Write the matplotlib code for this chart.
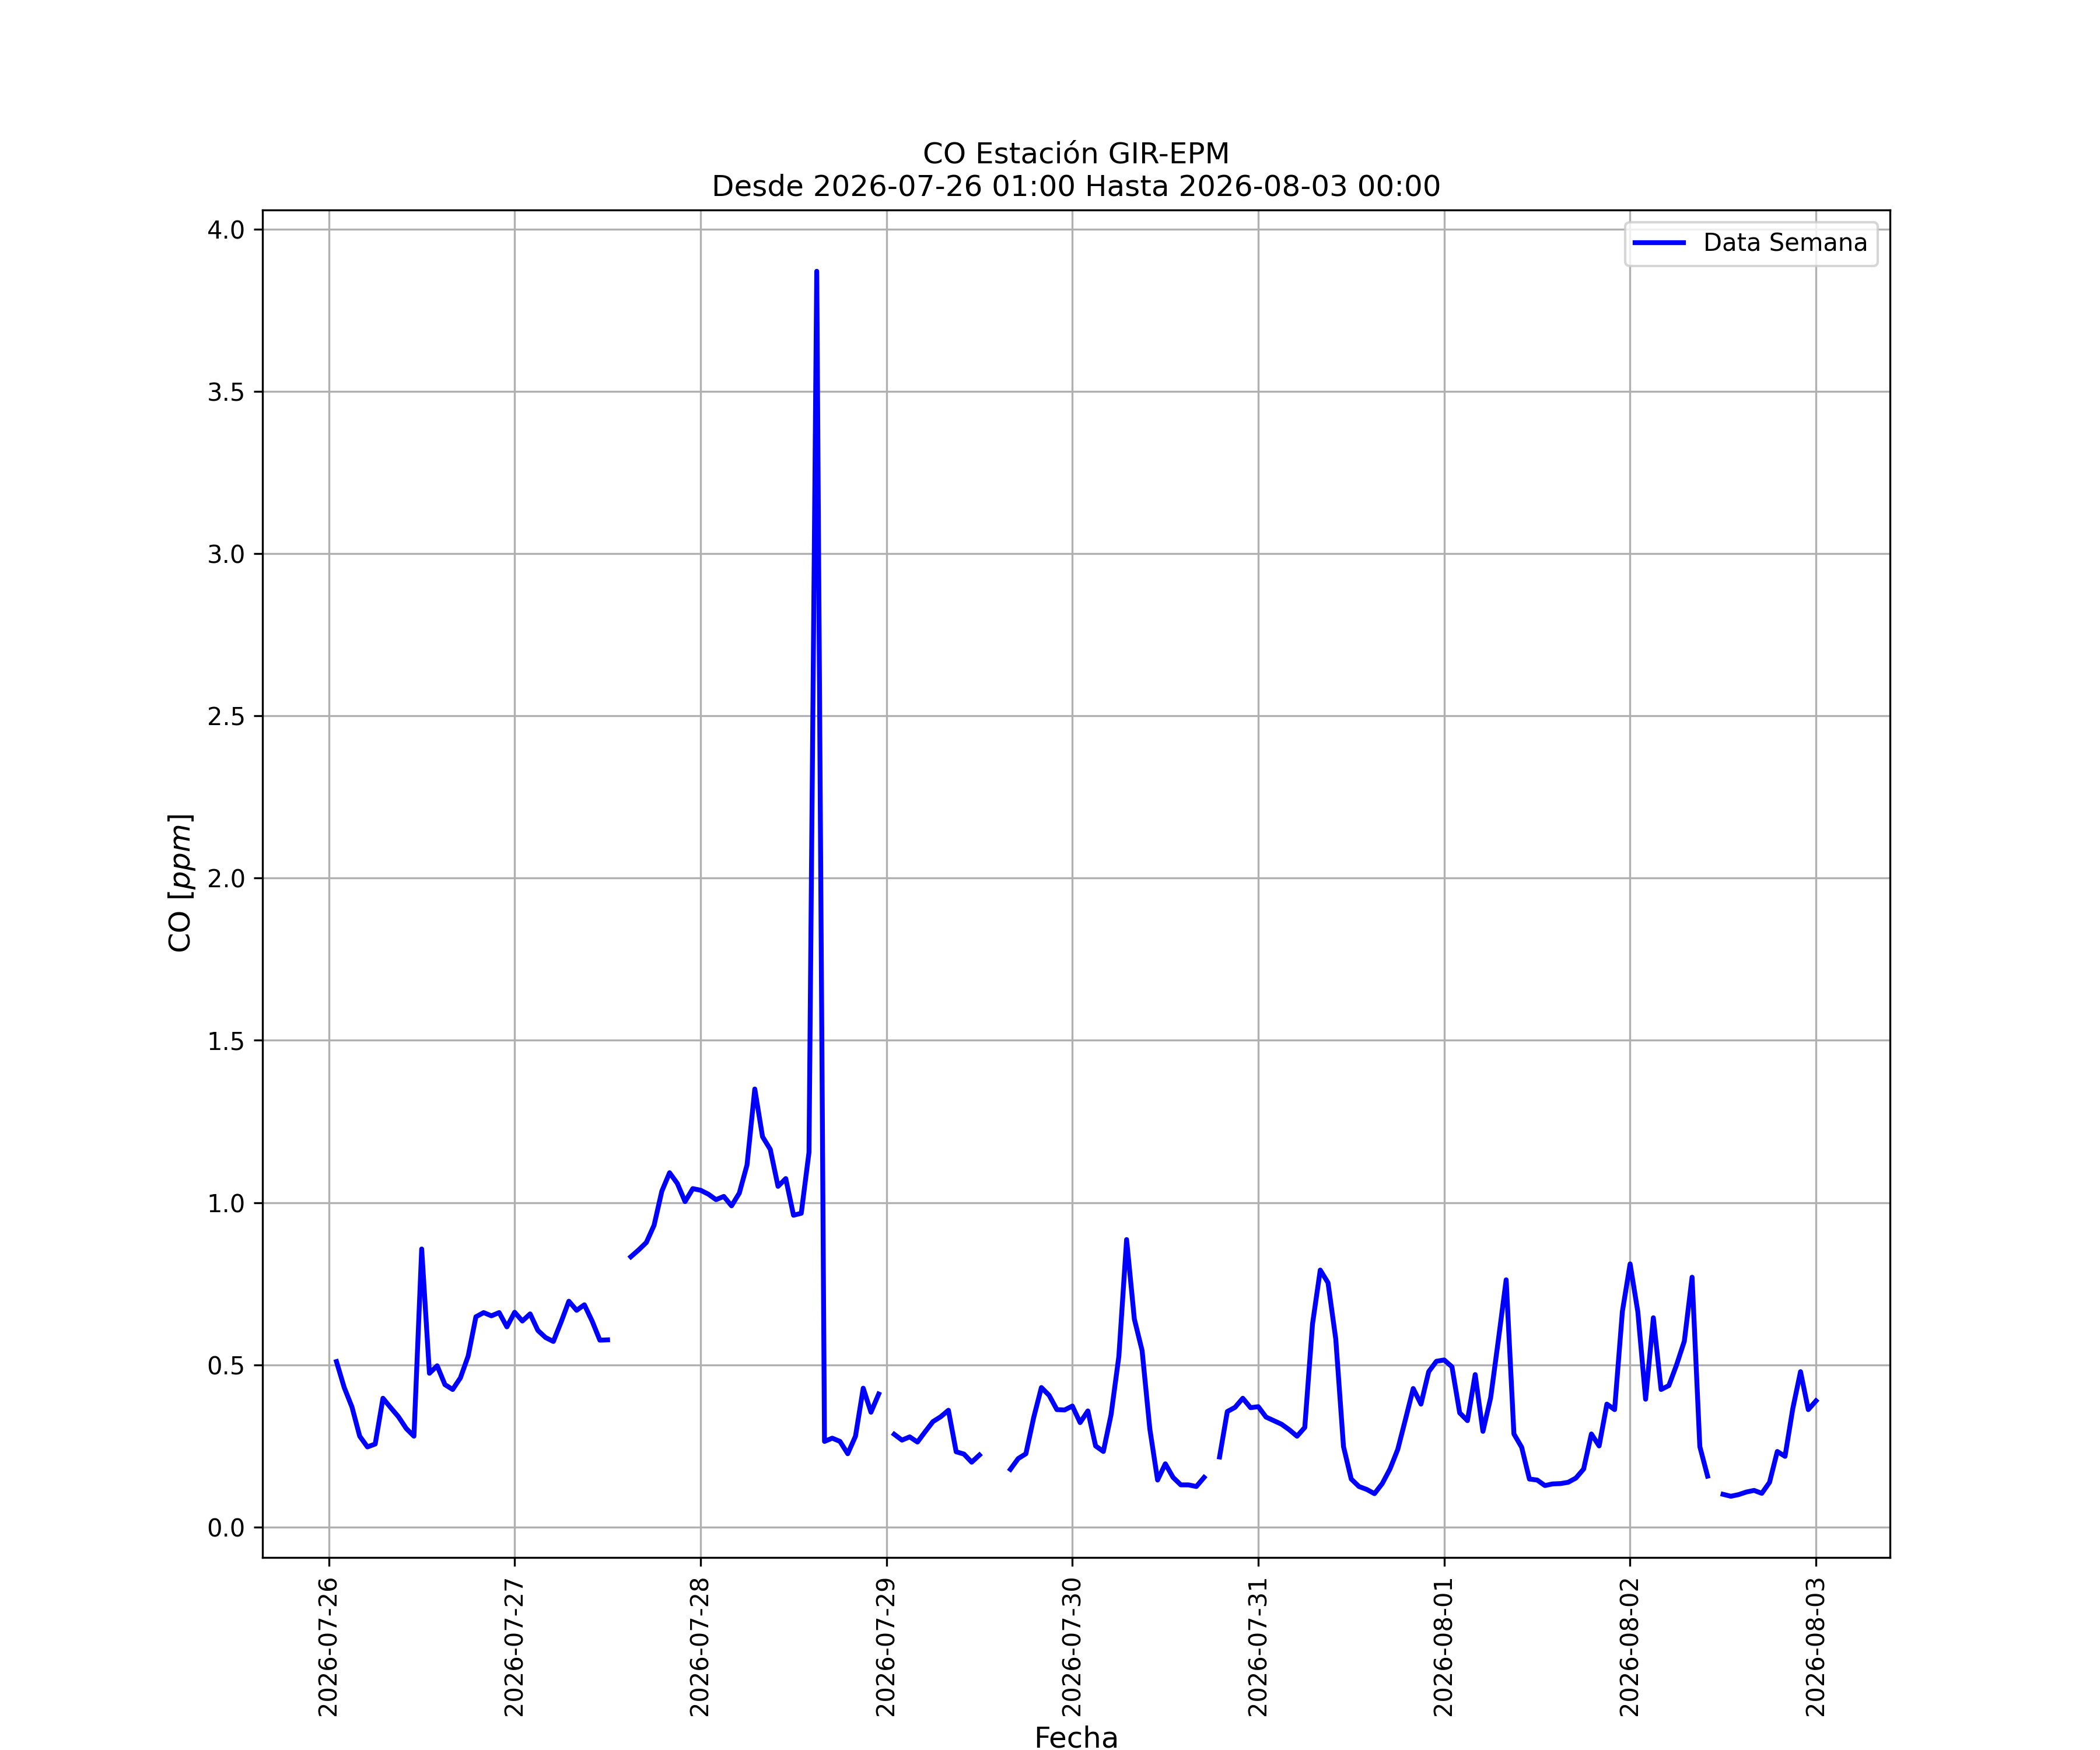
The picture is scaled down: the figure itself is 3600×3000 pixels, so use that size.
import numpy as np
import pandas as pd
import matplotlib
matplotlib.use('Agg')
import matplotlib.pyplot as plt
import matplotlib.dates as mdates

nan = np.nan

# Rango de la semana (datos horarios)
inicio = '2026-07-26 01:00'
fin = '2026-08-03 00:00'
estacion = 'GIR-EPM'

# CO [ppm] hora a hora, nan = sin dato
co_dia1 = [0.51, 0.43, 0.37, 0.28, 0.247, 0.256, 0.397, 0.368, 0.34, 0.304, 0.28, 0.857,
           0.474, 0.497, 0.439, 0.424, 0.46, 0.527, 0.648, 0.661, 0.651, 0.661, 0.617, 0.662]
co_dia2 = [0.635, 0.657, 0.606, 0.584, 0.572, 0.632, 0.696, 0.668, 0.685, 0.635, 0.576, 0.577,
           nan, nan, 0.833, 0.854, 0.877, 0.93, 1.035, 1.092, 1.059, 1.003, 1.043, 1.038]
co_dia3 = [1.026, 1.009, 1.019, 0.99, 1.029, 1.116, 1.35, 1.203, 1.164, 1.05, 1.074, 0.961,
           0.967, 1.155, 3.87, 0.264, 0.274, 0.264, 0.226, 0.28, 0.428, 0.354, 0.41, nan]
co_dia4 = [0.286, 0.268, 0.278, 0.262, 0.294, 0.325, 0.34, 0.36, 0.232, 0.225, 0.2, 0.222,
           nan, nan, nan, 0.178, 0.211, 0.226, 0.337, 0.43, 0.406, 0.362, 0.361, 0.373]
co_dia5 = [0.322, 0.358, 0.25, 0.233, 0.347, 0.526, 0.886, 0.641, 0.544, 0.302, 0.145, 0.195,
           0.153, 0.13, 0.13, 0.125, 0.153, nan, 0.216, 0.356, 0.369, 0.397, 0.368, 0.371]
co_dia6 = [0.339, 0.328, 0.317, 0.3, 0.28, 0.307, 0.626, 0.792, 0.753, 0.58, 0.248, 0.148,
           0.125, 0.116, 0.103, 0.134, 0.179, 0.239, 0.332, 0.427, 0.379, 0.479, 0.511, 0.515]
co_dia7 = [0.494, 0.352, 0.328, 0.47, 0.295, 0.399, 0.578, 0.762, 0.287, 0.246, 0.148, 0.145,
           0.128, 0.133, 0.134, 0.138, 0.151, 0.179, 0.287, 0.25, 0.379, 0.362, 0.664, 0.811]
co_dia8 = [0.663, 0.394, 0.645, 0.424, 0.436, 0.5, 0.573, 0.77, 0.248, 0.157, nan, 0.101,
           0.095, 0.1, 0.108, 0.113, 0.104, 0.138, 0.233, 0.218, 0.365, 0.479, 0.362, 0.389]

co_ppm = co_dia1 + co_dia2 + co_dia3 + co_dia4 + co_dia5 + co_dia6 + co_dia7 + co_dia8
fechas = pd.date_range(inicio, periods=len(co_ppm), freq='h')

fig, ax = plt.subplots(figsize=(12, 10), dpi=300)
ax.plot(fechas, co_ppm, color='blue', linewidth=2, label='Data Semana')

ax.set_title('CO Estación ' + estacion + '\nDesde ' + inicio + ' Hasta ' + fin, fontsize=12)
ax.set_xlabel('Fecha', fontsize=12)
ax.set_ylabel('CO [$ppm$]', fontsize=12)

ax.xaxis.set_major_locator(mdates.DayLocator())
ax.xaxis.set_major_formatter(mdates.DateFormatter('%Y-%m-%d'))
plt.xticks(rotation=90)

ax.grid(True)
ax.legend(loc='upper right')

fig.savefig('out.png')
